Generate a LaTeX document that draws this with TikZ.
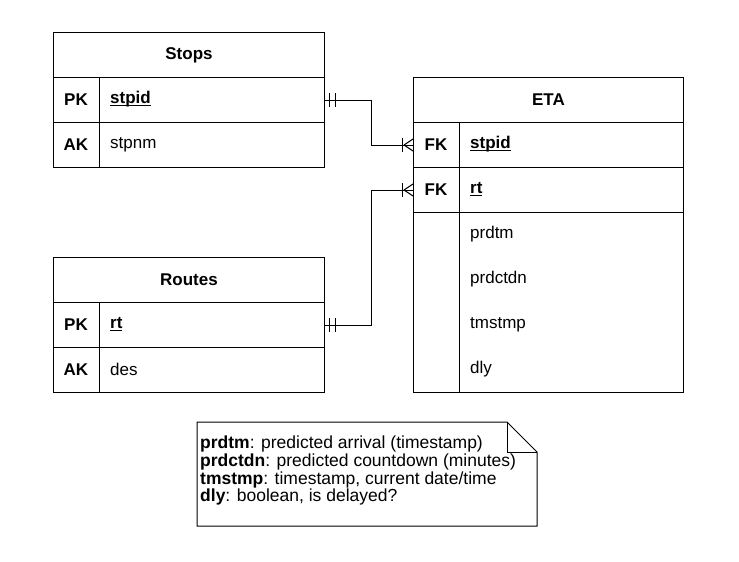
\documentclass[tikz,border=0pt]{standalone}
\usepackage{fontspec}
\setmainfont{Liberation Sans}
\usetikzlibrary{calc}
\newcommand\myul[1]{\setbox0\hbox{#1}\rlap{\rule[-2.5pt]{\wd0}{1pt}}\box0}
\begin{document}
\begin{tikzpicture}[x=1pt,y=-1pt,
  box/.style={draw=black,line width=1pt,inner sep=0pt,anchor=north west,minimum width=#1},
  row/.style={box=#1,minimum height=45pt},
  hdr/.style={font=\fontsize{17}{20}\selectfont\bfseries},
  keytxt/.style={font=\fontsize{17}{20}\selectfont\bfseries,inner sep=0pt},
  fldtxt/.style={font=\fontsize{17}{20}\selectfont,inner sep=0pt,anchor=west},
  div/.style={draw=black,line width=1pt},
  conn/.style={draw=black,line width=1pt},
  notetxt/.style={font=\fontsize{17.5}{17.7}\selectfont,align=left,inner sep=0pt,anchor=north west}
]
\useasboundingbox (0,0) rectangle (739,562);

% ---- Stops ----
\node[row=271pt] (stopsh) at (53,32) {};
\node[hdr] (stopsht) at (stopsh.center) {Stops};
\node[row=271pt] (stopspk) at (53,77) {};
\node[row=271pt] (stopsak) at (53,122) {};
\draw[div] (99,77) -- (99,167);
\node[keytxt] (stopspkk) at (76,99.5) {PK};
\node[fldtxt] (stopspkf) at (110,99.5) {\myul{\textbf{stpid}}};
\node[keytxt] (stopsakk) at (76,144.5) {AK};
\node[fldtxt] (stopsakf) at (110,144.5) {stpnm};

% ---- Routes ----
\node[row=271pt] (routesh) at (53,257) {};
\node[hdr] (routesht) at (routesh.center) {Routes};
\node[row=271pt] (routespk) at (53,302) {};
\node[row=271pt] (routesak) at (53,347) {};
\draw[div] (99,302) -- (99,392);
\node[keytxt] (routespkk) at (76,324.5) {PK};
\node[fldtxt] (routespkf) at (110,324.5) {\myul{\textbf{rt}}};
\node[keytxt] (routesakk) at (76,369.5) {AK};
\node[fldtxt] (routesakf) at (110,369.5) {des};

% ---- ETA ----
\node[row=270pt] (etah) at (413,77) {};
\node[hdr] (etaht) at (etah.center) {ETA};
\node[row=270pt] (etafk1) at (413,122) {};
\node[row=270pt] (etafk2) at (413,167) {};
\node[box=270pt,minimum height=180pt] (etarest) at (413,212) {};
\draw[div] (459,122) -- (459,392);
\node[keytxt] (etafk1k) at (436,144.5) {FK};
\node[fldtxt] (etafk1f) at (470,144.5) {\myul{\textbf{stpid}}};
\node[keytxt] (etafk2k) at (436,189.5) {FK};
\node[fldtxt] (etafk2f) at (470,189.5) {\myul{\textbf{rt}}};
\node[fldtxt] (etaf3) at (470,234.5) {prdtm};
\node[fldtxt] (etaf4) at (470,279.5) {prdctdn};
\node[fldtxt] (etaf5) at (470,324.5) {tmstmp};
\node[fldtxt] (etaf6) at (470,369.5) {dly};

% ---- connectors ----
\coordinate (c1a) at (stopspk.east);
\coordinate (c1b) at (etafk1.west);
\draw[conn] (c1a) -- ++(46,0) |- (c1b);
\draw[conn] ($(c1a)+(4,-7)$) -- ++(0,14);
\draw[conn] ($(c1a)+(10,-7)$) -- ++(0,14);
\draw[conn] ($(c1b)+(-11,-7)$) -- ++(0,14);
\draw[conn] ($(c1b)+(-9,0)$) -- ($(c1b)+(0,-6)$);
\draw[conn] ($(c1b)+(-9,0)$) -- ($(c1b)+(0,6)$);

\coordinate (c2a) at (routespk.east);
\coordinate (c2b) at (etafk2.west);
\draw[conn] (c2a) -- ++(46,0) |- (c2b);
\draw[conn] ($(c2a)+(4,-7)$) -- ++(0,14);
\draw[conn] ($(c2a)+(10,-7)$) -- ++(0,14);
\draw[conn] ($(c2b)+(-11,-7)$) -- ++(0,14);
\draw[conn] ($(c2b)+(-9,0)$) -- ($(c2b)+(0,-6)$);
\draw[conn] ($(c2b)+(-9,0)$) -- ($(c2b)+(0,6)$);

% ---- note ----
\draw[div] (197,422) -- (507,422) -- (537,452) -- (537,526) -- (197,526) -- cycle;
\draw[div] (507,422) -- (507,452) -- (537,452);
\node[notetxt] (note) at (200,436) {\textbf{prdtm}: predicted arrival (timestamp)\\
\textbf{prdctdn}: predicted countdown (minutes)\\
\textbf{tmstmp}: timestamp, current date/time\\
\textbf{dly}: boolean, is delayed?};
\end{tikzpicture}
\end{document}
